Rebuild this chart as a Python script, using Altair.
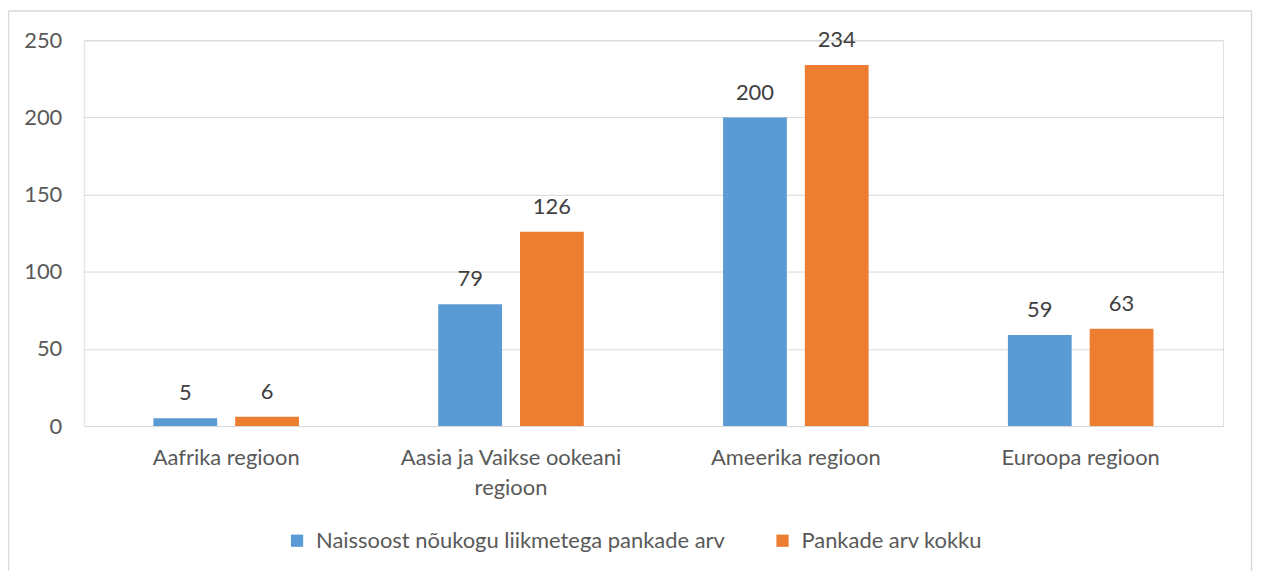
import altair as alt
import pandas as pd

categories = ["Aafrika regioon", "Aasia ja Vaikse ookeani regioon", "Ameerika regioon", "Euroopa regioon"]
series_names = ["Naissoost nõukogu liikmetega pankade arv", "Pankade arv kokku"]
women_banks = [5, 79, 200, 59]
total_banks = [6, 126, 234, 63]
colors = ["#5B9BD5", "#ED7D31"]
y_ticks = [0, 50, 100, 150, 200, 250]

rows = []
for i, c in enumerate(categories):
    rows.append({"region": c, "series": series_names[0], "value": women_banks[i]})
    rows.append({"region": c, "series": series_names[1], "value": total_banks[i]})
df = pd.DataFrame(rows)

FONT = "Lato"
TXT = "#595959"
FS = 22

y_scale = alt.Scale(domain=[0, 250], nice=False)

x_enc = alt.X(
    "region:N",
    sort=categories,
    scale=alt.Scale(paddingInner=0.489, paddingOuter=0.2445),
    axis=alt.Axis(
        title=None,
        labelAngle=0,
        labelFontSize=FS,
        labelColor=TXT,
        labelFont=FONT,
        labelPadding=32,
        labelLineHeight=30,
        labelBaseline="middle",
        labelLimit=500,
        labelExpr="datum.label == 'Aasia ja Vaikse ookeani regioon' ? ['Aasia ja Vaikse ookeani', 'regioon'] : datum.label",
        ticks=False,
        domain=False,
        grid=False,
    ),
)
xoff = alt.XOffset("series:N", sort=series_names, scale=alt.Scale(paddingInner=0.22))
y_enc = alt.Y(
    "value:Q",
    scale=y_scale,
    axis=alt.Axis(
        title=None,
        values=y_ticks,
        labelFontSize=FS,
        labelColor=TXT,
        labelFont=FONT,
        labelPadding=22,
        ticks=False,
        domain=False,
        gridColor="#d9d9d9",
        gridWidth=1,
    ),
)

bars = alt.Chart(df).mark_bar().encode(
    x=x_enc,
    xOffset=xoff,
    y=y_enc,
    color=alt.Color(
        "series:N",
        sort=series_names,
        scale=alt.Scale(domain=series_names, range=colors),
        legend=alt.Legend(
            title=None,
            orient="none",
            direction="horizontal",
            legendX=203,
            legendY=491,
            symbolType="square",
            symbolSize=150,
            symbolStrokeWidth=0,
            labelFontSize=FS,
            labelColor=TXT,
            labelFont=FONT,
            labelOffset=8,
            columnPadding=46,
            labelLimit=600,
        ),
    ),
)

labels = alt.Chart(df).mark_text(
    baseline="bottom", dy=-13, fontSize=FS, font=FONT, color="#404040"
).encode(
    x=alt.X("region:N", sort=categories),
    xOffset=alt.XOffset("series:N", sort=series_names),
    y=alt.Y("value:Q", scale=y_scale),
    text="value:Q",
)

frame = alt.Chart(pd.DataFrame({"a": [0]})).mark_rect(
    fill="transparent", stroke="#d9d9d9", strokeWidth=1.5
).encode(
    x=alt.value(-75.5), x2=alt.value(1171.5), y=alt.value(-29.5), y2=alt.value(560)
)

chart = alt.layer(frame, bars, labels).properties(
    width=1143,
    height=387,
    padding={"left": 76, "top": 31.5, "right": 30, "bottom": 150},
    autosize="none",
).configure_view(stroke=None).configure(background="white")

chart.save("out.html", embed_options={"renderer": "svg", "actions": False})
